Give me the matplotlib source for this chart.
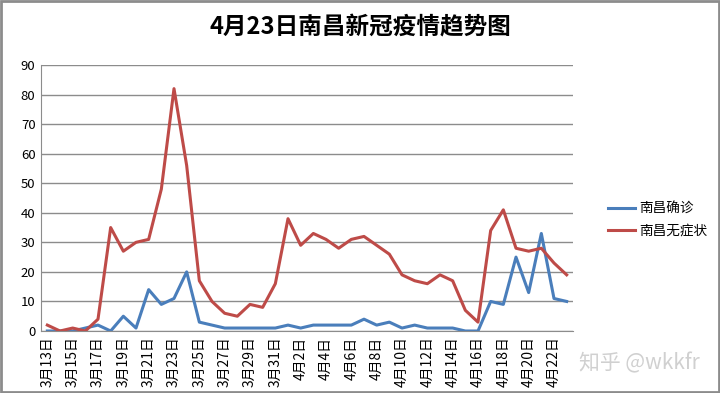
import matplotlib
matplotlib.use("Agg")
import matplotlib.pyplot as plt
from matplotlib.patches import Rectangle

plt.rcParams['font.family'] = ['Noto Sans CJK SC', 'DejaVu Sans']

dates = (["3月%d日" % d for d in range(13, 32)] + ["4月%d日" % d for d in range(1, 24)])
confirmed = [0, 0, 0, 1, 2, 0, 5, 1, 14, 9, 11, 20, 3, 2, 1, 1, 1, 1, 1,
             2, 1, 2, 2, 2, 2, 4, 2, 3, 1, 2, 1, 1, 1, 0, 0, 10, 9, 25, 13, 33, 11, 10]
asymptomatic = [2, 0, 1, 0, 4, 35, 27, 30, 31, 48, 82, 56, 17, 10, 6, 5, 9, 8, 16,
                38, 29, 33, 31, 28, 31, 32, 29, 26, 19, 17, 16, 19, 17, 7, 3, 34, 41, 28, 27, 28, 23, 19]
series_names = ["南昌确诊", "南昌无症状"]
title = "4月23日南昌新冠疫情趋势图"
yticks = list(range(0, 100, 10))

fig = plt.figure(figsize=(7.2, 3.93), dpi=100)
fig.patches.append(Rectangle((0.0015, 0.002), 0.997, 0.995, transform=fig.transFigure,
                             fill=False, edgecolor='#8c8c8c', linewidth=2))
ax = fig.add_axes([41/720, 1-331/393, (573-41)/720, (331-65)/393])

x = list(range(len(dates)))
ax.plot(x, confirmed, color='#4A7EBB', linewidth=2.2, label=series_names[0])
ax.plot(x, asymptomatic, color='#BE4B48', linewidth=2.2, label=series_names[1])

ax.set_xlim(-0.5, len(dates) - 0.5)
ax.set_ylim(0, 90)
ax.set_yticks(yticks)
ax.set_yticklabels([str(v) for v in yticks], fontsize=9.5)
ax.yaxis.grid(True, color='#8c8c8c', linewidth=1)
ax.set_axisbelow(True)
ax.set_xticks(x[::2])
ax.set_xticklabels(dates[::2], rotation=90, fontsize=10)
ax.tick_params(axis='both', length=0, pad=4)
for s in ['top', 'right']:
    ax.spines[s].set_visible(False)
ax.spines['left'].set_color('#8c8c8c')
ax.spines['bottom'].set_color('#8c8c8c')

fig.legend(loc='upper left', bbox_to_anchor=(596/720, 1-190/393), frameon=False,
           fontsize=9.8, handlelength=2.0, handletextpad=0.3, labelspacing=0.55)

fig.text(0.5, 1-27/393, title, ha='center', va='center', fontsize=17, fontweight='bold')
fig.text(639/720, 1-363/393, "知乎 @wkkfr", ha='center', va='center', fontsize=15,
         color='#d0d0d0')

fig.savefig("out.png", dpi=100)
